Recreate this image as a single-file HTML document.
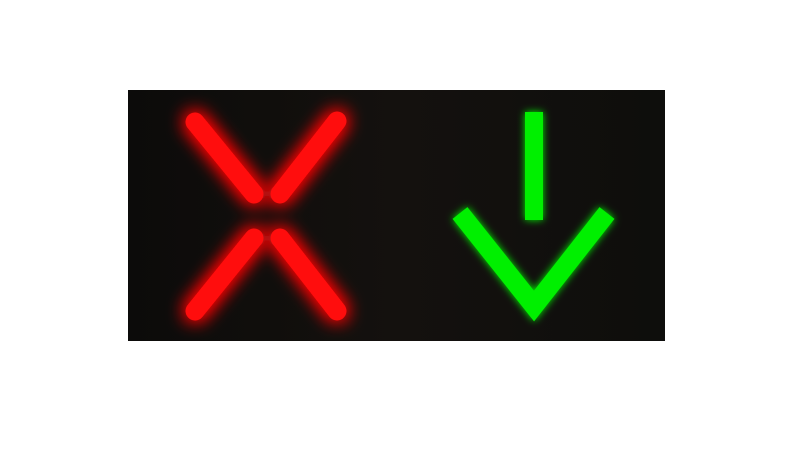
<!DOCTYPE html>
<html><head><meta charset="utf-8"><style>
html,body{margin:0;padding:0;background:#fff;width:800px;height:450px;overflow:hidden}
</style></head><body>
<svg width="800" height="450">
<defs>
<filter id="glowR" x="-50%" y="-50%" width="200%" height="200%"><feGaussianBlur stdDeviation="9" result="b"/><feMerge><feMergeNode in="b"/><feMergeNode in="b"/><feMergeNode in="SourceGraphic"/></feMerge></filter>
<filter id="glowG" x="-50%" y="-50%" width="200%" height="200%"><feGaussianBlur stdDeviation="4" result="b"/><feMerge><feMergeNode in="b"/><feMergeNode in="SourceGraphic"/></feMerge></filter>
<linearGradient id="bg" x1="0" x2="1"><stop offset="0" stop-color="#0c0b0a"/><stop offset="0.5" stop-color="#14110e"/><stop offset="1" stop-color="#0e0e0c"/></linearGradient>
</defs>
<rect x="128" y="90" width="537" height="251" fill="url(#bg)"/>
<g stroke="#ff0a0a" stroke-width="19" stroke-linecap="round" filter="url(#glowR)">
<line x1="195" y1="122" x2="254" y2="194"/>
<line x1="337" y1="121" x2="280" y2="194"/>
<line x1="254" y1="238" x2="195" y2="311"/>
<line x1="280" y1="238" x2="337" y2="311"/>
</g>
<g fill="#00f000" stroke="#00f000" filter="url(#glowG)">
<rect x="525" y="112" width="18" height="108" stroke="none"/>
<polyline points="460,213 534,306 607,213" fill="none" stroke-width="19" stroke-linejoin="miter"/>
</g>
</svg>
</body></html>
